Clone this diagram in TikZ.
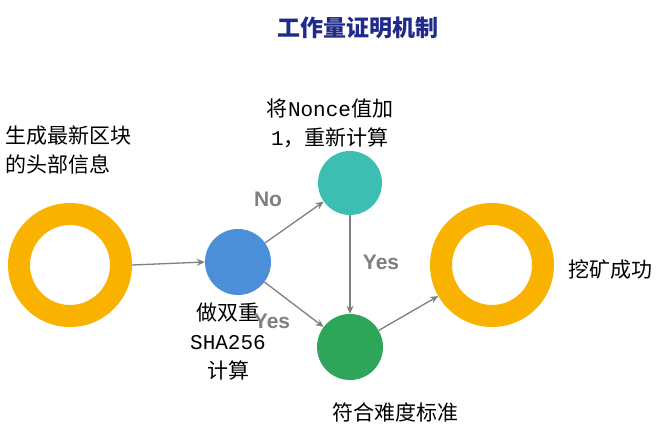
\documentclass[tikz,border=0pt]{standalone}
\usepackage{fontspec}
\setmainfont{Liberation Mono}
\newfontfamily\cjk{Noto Sans CJK SC}
\newfontfamily\lab{Liberation Sans}
\usetikzlibrary{arrows.meta}
\definecolor{ring}{HTML}{F9B200}
\definecolor{bluec}{HTML}{4A8FD8}
\definecolor{tealc}{HTML}{3CBFB2}
\definecolor{greenc}{HTML}{2EA65A}
\definecolor{navy}{HTML}{1F2A8A}
\definecolor{arr}{HTML}{7F7F7F}
\newcommand{\mo}[1]{{\rmfamily #1}}
\tikzset{
  txt/.style={font=\fontsize{21}{29}\selectfont\cjk, align=center, text=black},
  lbl/.style={font=\fontsize{21}{24}\selectfont\lab\bfseries, text=arr},
  conn/.style={draw=arr, line width=1.3pt, -{Stealth[length=8pt,width=7pt]}},
  dot/.style={circle, minimum size=#1, inner sep=0pt}
}
\begin{document}
\begin{tikzpicture}[x=1pt,y=-1pt]
\useasboundingbox (0,0) rectangle (671,433);
\fill[white] (0,0) rectangle (671,433);
\node[font=\fontsize{23}{26}\selectfont\cjk\bfseries, text=navy] (title) at (358,28) {工作量证明机制};
\fill[ring,even odd rule] (70,265) circle (62) (70,265) circle (40);
\node[dot=124] (r1) at (70,265) {};
\fill[ring,even odd rule] (492,265) circle (62) (492,265) circle (40);
\node[dot=124] (r2) at (492,265) {};
\node[dot=66, fill=bluec] (b) at (238,262) {};
\node[dot=64, fill=tealc] (t) at (350,183) {};
\node[dot=66, fill=greenc] (g) at (350,347) {};
\node[txt, anchor=west, align=left] (t1) at (2,150) {生成最新区块\\的头部信息};
\node[txt] (t2) at (228,342) {做双重\\\mo{SHA256}\\计算};
\node[txt] (t3) at (330,123) {将\mo{Nonce}值加\\\mo{1}，重新计算};
\node[txt] (t4) at (395,412) {符合难度标准};
\node[txt] (t5) at (610,270) {挖矿成功};
\draw[conn] (r1.east) -- (b.west);
\draw[conn] (b) -- (t);
\draw[conn] (b) -- (g);
\draw[conn] (t) -- (g);
\draw[conn] (g) -- (r2);
\node[lbl] (l1) at (268,199) {No};
\node[lbl] (l2) at (272,321) {Yes};
\node[lbl] (l3) at (381,262) {Yes};
\end{tikzpicture}
\end{document}
